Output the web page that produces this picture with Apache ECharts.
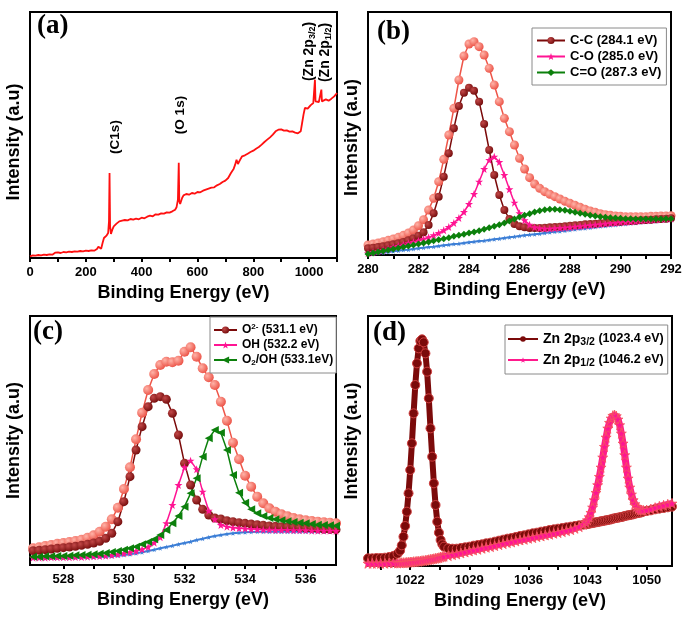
<!DOCTYPE html>
<html><head><meta charset="utf-8">
<script src="https://cdn.jsdelivr.net/npm/echarts@6/dist/echarts.min.js"></script>
<style>html,body{margin:0;padding:0;background:#fff}#c{width:685px;height:626px}</style>
</head><body><div id="c"></div>
<script>
// ---------- (a) survey spectrum ----------
const surveyE = [0,10,20,30,40,50,60,70,80,90,95,100,110,120,130,140,150,160,170,180,190,200,210,220,230,240,245,250,255,260,265,270,275,280,283,285,287,290,295,300,310,320,330,340,350,360,370,380,390,400,410,420,430,440,450,460,470,480,490,500,510,520,525,530,533,535,538,545,550,560,570,580,590,600,610,620,630,640,650,660,670,680,690,700,710,720,730,735,740,745,750,755,760,770,780,790,800,810,820,830,840,850,860,870,880,890,900,910,920,930,940,950,960,965,970,975,980,985,990,995,1000,1005,1010,1015,1018,1021,1023,1026,1030,1035,1040,1044,1046,1050,1060,1070,1080,1090,1100];
const surveyI = [5,8,7,9,8,10,9,11,10,16,15,17,15,18,17,19,18,20,19,21,20,22,21,23,22,27,34,31,28,45,60,55,68,75,110,255,95,72,85,95,103,110,112,114,113,117,115,118,116,121,119,124,127,125,131,130,134,133,137,136,140,145,152,175,286,170,162,180,188,192,190,195,193,198,197,202,205,208,211,212,218,222,228,232,240,255,268,280,295,282,288,298,305,308,313,318,322,328,333,340,348,355,362,370,380,385,386,382,383,379,380,376,374,372,380,405,430,450,455,448,452,458,455,465,470,535,470,465,470,468,472,505,470,474,476,472,478,485,495];

// ---------- (b) C 1s ----------
const bX = [280,280.2,280.4,280.6,280.8,281,281.2,281.4,281.6,281.8,282,282.2,282.4,282.6,282.8,283,283.2,283.4,283.6,283.8,284,284.2,284.4,284.6,284.8,285,285.2,285.4,285.6,285.8,286,286.2,286.4,286.6,286.8,287,287.2,287.4,287.6,287.8,288,288.2,288.4,288.6,288.8,289,289.2,289.4,289.6,289.8,290,290.2,290.4,290.6,290.8,291,291.2,291.4,291.6,291.8,292];
const bEnv = [30,33,36,40,44,48,53,59,66,75,88,106,135,170,220,287,360,440,525,597,633,640,625,600,560,510,460,410,370,330,290,258,232,213,200,190,182,175,168,161,155,149,143,137,132,128,124,121,119,117,116,115,115,115,115,115,116,116,117,117,118];
const bCC = [20,22,24,26,29,32,35,39,44,50,58,68,90,125,175,235,305,380,447,487,502,493,460,393,315,240,180,135,108,93,86,83,81,81,81,82,83,84,85,86,88,89,90,92,93,94,95,97,98,99,100,101,102,103,104,105,106,107,108,109,110];
const bCO = [5,8,11,15,19,23,27,31,35,39,43,48,53,59,66,74,84,96,111,129,153,183,220,258,285,295,279,240,197,157,125,104,91,83,80,79,79,80,81,82,83,85,86,88,89,91,92,94,95,96,98,99,100,101,103,104,105,106,107,108,109];
const bCdO = [3,6,9,12,15,18,21,24,27,30,33,36,39,43,46,49,52,56,59,62,66,69,73,77,82,86,91,96,102,108,114,119,124,129,133,136,137,137,136,134,131,128,125,122,119,117,115,113,112,111,110,109,109,108,108,108,108,108,108,109,109];
const bBg = [2,4,6,7,9,11,13,15,16,18,20,22,24,25,27,29,31,33,34,36,38,40,42,43,45,47,49,51,53,55,57,59,61,62,64,66,68,70,71,73,75,77,79,80,82,84,86,87,89,90,92,93,95,96,98,99,100,101,103,104,105];

// ---------- (c) O 1s ----------
const cX = [527,527.2,527.4,527.6,527.8,528,528.2,528.4,528.6,528.8,529,529.2,529.4,529.6,529.8,530,530.2,530.4,530.6,530.8,531,531.2,531.4,531.6,531.8,532,532.2,532.4,532.6,532.8,533,533.2,533.4,533.6,533.8,534,534.2,534.4,534.6,534.8,535,535.2,535.4,535.6,535.8,536,536.2,536.4,536.6,536.8,537];
const cEnv = [50,53,57,60,64,66,69,72,76,82,89,100,115,137,172,228,293,377,457,525,573,600,610,608,613,640,653,625,590,563,540,490,433,367,317,268,235,205,185,170,160,152,146,141,137,134,132,130,128,127,125];
const cO2 = [43,44,46,48,50,52,54,56,59,62,66,71,80,95,130,190,265,345,415,475,500,505,497,455,390,305,240,195,167,150,141,138,133,130,127,125,123,121,119,117,116,115,114,113,112,111,110,109,108,107,106];
const cOH = [22,22,22,23,23,23,23,24,24,25,26,27,28,30,32,35,38,42,47,54,67,83,125,180,240,293,313,287,220,163,137,120,115,112,110,109,108,107,106,106,105,105,105,104,104,104,103,103,103,103,102];
const cO2OH = [25,25,26,26,27,27,28,29,30,31,32,34,36,39,42,46,50,55,62,69,77,90,105,125,147,175,215,260,325,380,405,397,345,270,217,187,167,155,147,141,137,134,131,129,127,125,123,121,120,119,118];
const cBg = [20,20,20,21,21,21,21,22,22,23,23,24,25,26,28,30,32,35,38,42,46,50,54,58,62,66,70,75,79,83,87,90,93,95,97,98,99,100,100,100,100,100,100,100,100,100,100,100,100,100,100];

// ---------- (d) Zn 2p ----------
const dX = [1017,1017.5,1018,1018.5,1019,1019.5,1020,1020.5,
 1020.8,1021,1021.2,1021.4,1021.6,1021.8,1022,1022.2,1022.4,1022.6,1022.8,1023,1023.2,1023.4,1023.6,1023.8,1024,1024.2,1024.4,1024.6,1024.8,1025,1025.2,1025.4,1025.6,1025.8,1026,
 1026.5,1027,1027.5,1028,1028.5,1029,1029.5,1030,1030.5,1031,1031.5,1032,1032.5,1033,1033.5,1034,1034.5,1035,1035.5,1036,1036.5,1037,1037.5,1038,1038.5,1039,1039.5,1040,1040.5,1041,1041.5,1042,1042.5,
 1042.8,1043,1043.2,1043.4,1043.6,1043.8,1044,1044.2,1044.4,1044.6,1044.8,1045,1045.2,1045.4,1045.6,1045.8,1046,1046.2,1046.4,1046.6,1046.8,1047,1047.2,1047.4,1047.6,1047.8,1048,1048.2,1048.4,1048.6,1048.8,1049,1049.2,1049.4,1049.6,
 1050,1050.5,1051,1051.5,1052,1052.5,1053];
const dZn32 = [23,23,24,24,25,27,30,37,
 46,62,88,120,163,218,288,368,458,543,608,653,675,680,671,638,583,503,413,328,248,183,133,100,78,65,58,
 53,52,52,54,56,58,61,63,65,68,70,73,76,79,82,84,87,90,92,95,98,100,103,105,108,110,112,114,116,118,120,122,124,
 125,126,127,128,129,130,131,132,133,134,135,136,137,138,139,140,142,143,144,145,146,147,148,150,151,152,153,154,155,157,158,159,160,161,163,
 165,167,170,172,174,176,178];
const dZn12 = [8,8,8,8,8,9,9,9,
 9,10,10,10,11,11,12,12,13,13,14,14,15,16,16,17,18,19,20,21,22,23,24,25,27,28,29,
 31,34,36,39,42,45,48,50,53,56,58,61,64,67,70,72,75,78,80,83,85,88,90,93,95,98,100,103,106,109,113,118,125,
 131,138,147,160,176,198,220,243,268,296,326,358,386,413,430,443,451,453,450,440,423,398,368,333,296,263,236,215,198,186,178,172,169,168,167,
 168,171,175,179,182,185,188];

// tick labels
const aTicks = [0,200,400,600,800,1000];
const cLabelTicks = [528,530,532,534,536];
const cTicks = [528,529,530,531,532,533,534,535,536];
const dLabelTicks = [1022,1029,1036,1043,1050];
const dTicks = [1018.5,1022,1025.5,1029,1032.5,1036,1039.5,1043,1046.5,1050];

const FONT = '"Liberation Sans", Arial, Helvetica, sans-serif';
const SERIF = '"Liberation Serif", "Times New Roman", serif';
const STAR = 'path://M50,2 L61.8,36.2 L97.6,36.2 L68.6,57.6 L79.4,92 L50,71 L20.6,92 L31.4,57.6 L2.4,36.2 L38.2,36.2 Z';
const zip = (xs, ys) => xs.map((x, i) => [x, ys[i]]);
const ball = (l, d) => ({type:'radial', x:0.35, y:0.35, r:0.75, colorStops:[{offset:0,color:l},{offset:1,color:d}]});

const SALMON = ball('#ffb3a8', '#ea4a3e');
const DARKRED = ball('#c24848', '#6e0707');
const PINK = '#ff1493';
const GREEN = '#0c800c';
const BLUE = '#3d7fd6';

function xAx(gi, min, max, tick, label, minor) {
  return {
    type:'value', gridIndex:gi, min:min, max:max,
    name:'Binding Energy (eV)', nameLocation:'middle', nameGap:26,
    nameTextStyle:{fontFamily:FONT, fontSize:18, fontWeight:'bold', color:'#000'},
    axisLine:{show:true, onZero:false, lineStyle:{color:'#000', width:2}},
    axisTick:Object.assign({show:true, inside:false, length:4, lineStyle:{color:'#000', width:2}}, tick || {}),
    minorTick:Object.assign({show:false, length:4, lineStyle:{color:'#000', width:2}}, minor || {}),
    axisLabel:Object.assign({show:true, color:'#000', fontFamily:FONT, fontSize:13, fontWeight:'bold', margin:8,
      formatter:v => String(v)}, label || {}),
    splitLine:{show:false}, minorSplitLine:{show:false}
  };
}
function yAx(gi, max, pad) {
  return {
    type:'value', gridIndex:gi, min:0, max:max,
    name:'Intensity (a.u)', nameLocation:'middle', nameGap:7,
    nameTextStyle:{fontFamily:FONT, fontSize:18, fontWeight:'bold', color:'#000', padding:pad || 0},
    axisLine:{show:true, onZero:false, lineStyle:{color:'#000', width:2}},
    axisTick:{show:false}, axisLabel:{show:false}, splitLine:{show:false}
  };
}
function ser(name, gi, xs, ys, symbol, size, fill, lineColor, lw, extra) {
  return Object.assign({
    type:'line', name:name, xAxisIndex:gi, yAxisIndex:gi, data:zip(xs, ys),
    symbol:symbol, symbolSize:size, showSymbol:true, showAllSymbol:true,
    itemStyle:{color:fill}, lineStyle:{color:lineColor, width:lw},
    emphasis:{disabled:true}, silent:true, clip:true, animation:false
  }, extra || {});
}

const gridBase = {show:true, borderColor:'#000', borderWidth:2, backgroundColor:'transparent', containLabel:false, outerBoundsMode:'none'};

const legendText = {fontFamily:FONT, fontWeight:'bold', color:'#000'};
const RICHC = {
  'O2- (531.1 eV)':'{t|O}{sup|2-}{t| (531.1 eV)}',
  'OH (532.2 eV)':'{t|OH (532.2 eV)}',
  'O2/OH (533.1eV)':'{t|O}{sub|2}{t|/OH (533.1eV)}'
};
const RICHD = {
  'Zn 2p3/2 (1023.4 eV)':'{z|Zn 2p}{sub|3/2}{s| (1023.4 eV)}',
  'Zn 2p1/2 (1046.2 eV)':'{z|Zn 2p}{sub|1/2}{s| (1046.2 eV)}'
};

const option = {
  backgroundColor:'#fff',
  animation:false,
  grid:[
    Object.assign({left:30, top:12, width:307, height:246}, gridBase),
    Object.assign({left:368, top:12, width:303, height:243}, gridBase),
    Object.assign({left:30, top:316, width:306, height:249}, gridBase),
    Object.assign({left:368, top:316, width:304, height:250}, gridBase)
  ],
  xAxis:[
    xAx(0, 0, 1100, null, {customValues:aTicks}, {show:true, splitNumber:2}),
    xAx(1, 280, 292, null, null, {show:true, splitNumber:2}),
    xAx(2, 526.9, 537, {customValues:cTicks}, {customValues:cLabelTicks}),
    xAx(3, 1017, 1053, {customValues:dTicks}, {customValues:dLabelTicks})
  ],
  yAxis:[ yAx(0, 738, [0,14,0,0]), yAx(1, 729, [0,8,0,0]), yAx(2, 747), yAx(3, 750) ],
  legend:[
    {
      data:['C-C (284.1 eV)','C-O (285.0 eV)','C=O (287.3 eV)'],
      left:532, top:28, orient:'vertical', itemGap:1, itemWidth:28, itemHeight:9,
      padding:[5,5,5,4], borderColor:'#8a8a8a', borderWidth:1, backgroundColor:'#fff',
      selectedMode:false, lineStyle:{width:2},
      textStyle:Object.assign({fontSize:13, lineHeight:15}, legendText)
    },
    {
      data:['O2- (531.1 eV)','OH (532.2 eV)','O2/OH (533.1eV)'],
      left:210, top:317, orient:'vertical', itemGap:1, itemWidth:23, itemHeight:9,
      padding:[6,3,6,3], borderColor:'#8a8a8a', borderWidth:1, backgroundColor:'#fff',
      selectedMode:false, lineStyle:{width:2},
      formatter:n => RICHC[n] || n,
      textStyle:Object.assign({fontSize:12, lineHeight:14, rich:{
        t:Object.assign({fontSize:12, lineHeight:14}, legendText),
        sup:Object.assign({fontSize:8, verticalAlign:'top', lineHeight:9}, legendText),
        sub:Object.assign({fontSize:8, verticalAlign:'bottom', lineHeight:9}, legendText)
      }}, legendText)
    },
    {
      data:['Zn 2p3/2 (1023.4 eV)','Zn 2p1/2 (1046.2 eV)'],
      left:505, top:325, orient:'vertical', itemGap:3, itemWidth:30, itemHeight:7,
      padding:[5,4,5,2], borderColor:'#8a8a8a', borderWidth:1, backgroundColor:'#fff',
      selectedMode:false, lineStyle:{width:2}, itemStyle:{borderWidth:0},
      formatter:n => RICHD[n] || n,
      textStyle:Object.assign({fontSize:12.5, lineHeight:18, rich:{
        z:Object.assign({fontSize:14, lineHeight:18}, legendText),
        sub:Object.assign({fontSize:10.5, verticalAlign:'bottom', lineHeight:12}, legendText),
        s:Object.assign({fontSize:12.5, lineHeight:18}, legendText)
      }}, legendText)
    }
  ],
  series:[
    ser('Survey', 0, surveyE, surveyI, 'none', 0, '#ff1010', '#ff1010', 1.8),

    ser('bgB', 1, bX, bBg, STAR, 5, BLUE, BLUE, 2),
    ser('envB', 1, bX, bEnv, 'circle', 9, SALMON, '#ee5548', 1.5),
    ser('C-C (284.1 eV)', 1, bX, bCC, 'circle', 8, DARKRED, '#7b0a0a', 1.5),
    ser('C-O (285.0 eV)', 1, bX, bCO, STAR, 8, PINK, PINK, 1.5),
    ser('C=O (287.3 eV)', 1, bX, bCdO, 'diamond', 7, GREEN, GREEN, 1.5),

    ser('bgC', 2, cX, cBg, STAR, 5, BLUE, BLUE, 2),
    ser('envC', 2, cX, cEnv, 'circle', 10, SALMON, '#ee5548', 1.5),
    ser('O2- (531.1 eV)', 2, cX, cO2, 'circle', 9, DARKRED, '#7b0a0a', 1.5),
    ser('OH (532.2 eV)', 2, cX, cOH, STAR, 8, PINK, PINK, 1.5),
    ser('O2/OH (533.1eV)', 2, cX, cO2OH, 'triangle', 8, GREEN, GREEN, 1.5, {symbolRotate:90}),

    ser('Zn 2p3/2 (1023.4 eV)', 3, dX, dZn32, 'circle', 9, '#7b0a0a', '#7b0a0a', 6,
        {itemStyle:{color:'#7b0a0a', borderColor:'#d04040', borderWidth:1}}),
    ser('Zn 2p1/2 (1046.2 eV)', 3, dX, dZn12, STAR, 10, PINK, '#ff1a8c', 7,
        {itemStyle:{color:PINK, borderColor:'#f55a5a', borderWidth:0.8}})
  ],
  graphic:[
    {type:'text', x:37, y:26, z:100, style:{text:'(a)', fontFamily:SERIF, fontSize:27, fontWeight:'bold', fill:'#000', align:'left', verticalAlign:'middle'}},
    {type:'text', x:377, y:32, z:100, style:{text:'(b)', fontFamily:SERIF, fontSize:27, fontWeight:'bold', fill:'#000', align:'left', verticalAlign:'middle'}},
    {type:'text', x:33, y:332, z:100, style:{text:'(c)', fontFamily:SERIF, fontSize:27, fontWeight:'bold', fill:'#000', align:'left', verticalAlign:'middle'}},
    {type:'text', x:373, y:333, z:100, style:{text:'(d)', fontFamily:SERIF, fontSize:27, fontWeight:'bold', fill:'#000', align:'left', verticalAlign:'middle'}},
    {type:'text', x:115.5, y:137, rotation:Math.PI/2, z:100, style:{text:'(C1s)', fontFamily:FONT, fontSize:13.5, fontWeight:'bold', fill:'#000', align:'center', verticalAlign:'middle'}},
    {type:'text', x:180.5, y:115, rotation:Math.PI/2, z:100, style:{text:'(O 1s)', fontFamily:FONT, fontSize:13.5, fontWeight:'bold', fill:'#000', align:'center', verticalAlign:'middle'}},
    {type:'text', x:309.5, y:51.5, rotation:Math.PI/2, z:100, style:{text:'{a|(Zn 2p}{s|3/2}{a|)}', align:'center', verticalAlign:'middle',
      rich:{a:{fontFamily:FONT, fontSize:14, fontWeight:'bold', fill:'#000', lineHeight:16}, s:{fontFamily:FONT, fontSize:9, fontWeight:'bold', fill:'#000', verticalAlign:'bottom', lineHeight:10}}}},
    {type:'text', x:325.5, y:52.5, rotation:Math.PI/2, z:100, style:{text:'{a|(Zn 2p}{s|1/2}{a|)}', align:'center', verticalAlign:'middle',
      rich:{a:{fontFamily:FONT, fontSize:14, fontWeight:'bold', fill:'#000', lineHeight:16}, s:{fontFamily:FONT, fontSize:9, fontWeight:'bold', fill:'#000', verticalAlign:'bottom', lineHeight:10}}}}
  ]
};

const chart = echarts.init(document.getElementById('c'), null, {renderer:'canvas'});
chart.setOption(option);
</script>
</body></html>
